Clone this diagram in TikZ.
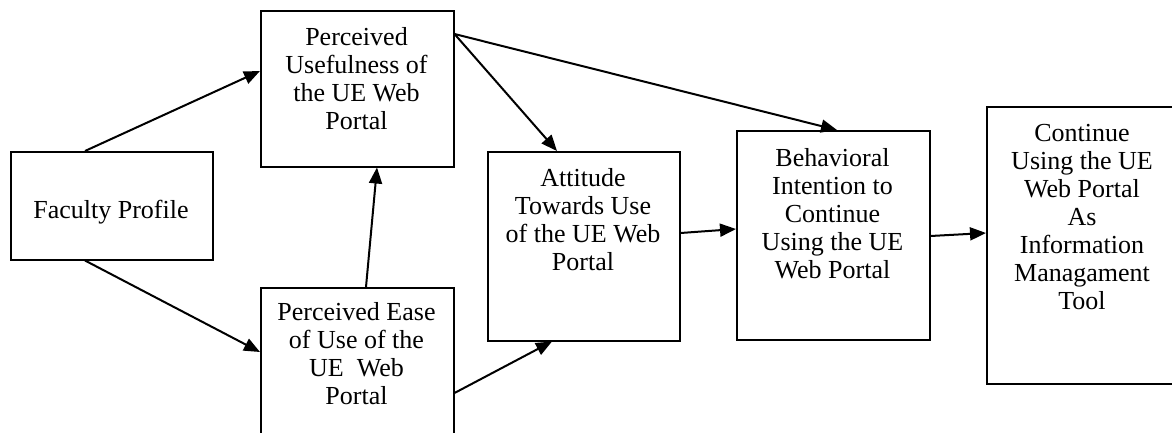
\documentclass[tikz,border=0pt]{standalone}
\usepackage{fontspec}
\setmainfont{Liberation Serif}
\usetikzlibrary{arrows.meta}
\begin{document}
\begin{tikzpicture}[x=1pt,y=-1pt,
  box/.style={draw, line width=1.5pt, inner sep=0pt, anchor=north west},
  txt/.style={anchor=north, inner sep=0pt, align=center, font=\fontsize{26}{28}\selectfont},
  conn/.style={line width=2pt, -{Triangle[length=16pt,width=13pt]}}]
\useasboundingbox (0,0) rectangle (1172,432);
% boxes
\node[box, minimum width=202pt, minimum height=108pt] (fac) at (10,151) {};
\node[box, minimum width=193pt, minimum height=156pt] (pu) at (260,10) {};
\node[box, minimum width=193pt, minimum height=160pt] (pe) at (260,287) {};
\node[box, minimum width=192pt, minimum height=189pt] (att) at (487,151) {};
\node[box, minimum width=193pt, minimum height=209pt] (beh) at (736,130) {};
\node[box, minimum width=210pt, minimum height=277pt] (con) at (986,106) {};
% texts
\node[inner sep=0pt, font=\fontsize{26}{28}\selectfont] (tfac) at (111,212) {Faculty Profile};
\node[txt] (tpu) at (356.5,27) {Perceived\\Usefulness of\\the UE Web\\Portal};
\node[txt] (tpe) at (356.5,302) {Perceived Ease\\of Use of the\\UE\ \ Web\\Portal};
\node[txt] (tatt) at (583,168) {Attitude\\Towards Use\\of the UE Web\\Portal};
\node[txt] (tbeh) at (832.5,148) {Behavioral\\Intention to\\Continue\\Using the UE\\Web Portal};
\node[txt] (tcon) at (1082,124) {Continue\\Using the UE\\Web Portal\\As\\Information\\Managament\\Tool};
% connectors
\draw[conn] ([xshift=75pt]fac.north west) -- ([yshift=-61pt]pu.north west);
\draw[conn] ([xshift=75pt]fac.south west) -- ([yshift=-65pt]pe.north west);
\draw[conn] ([xshift=106pt]pe.north west) -- ([xshift=117pt]pu.south west);
\draw[conn] ([yshift=-24pt]pu.north east) -- ([xshift=70pt]att.north west);
\draw[conn] ([yshift=-24pt]pu.north east) -- ([xshift=101pt]beh.north west);
\draw[conn] ([yshift=-106pt]pe.north east) -- ([xshift=65pt]att.south west);
\draw[conn] ([yshift=-82pt]att.north east) -- ([yshift=-99pt]beh.north west);
\draw[conn] ([yshift=-106pt]beh.north east) -- ([yshift=-127pt]con.north west);
\end{tikzpicture}
\end{document}
